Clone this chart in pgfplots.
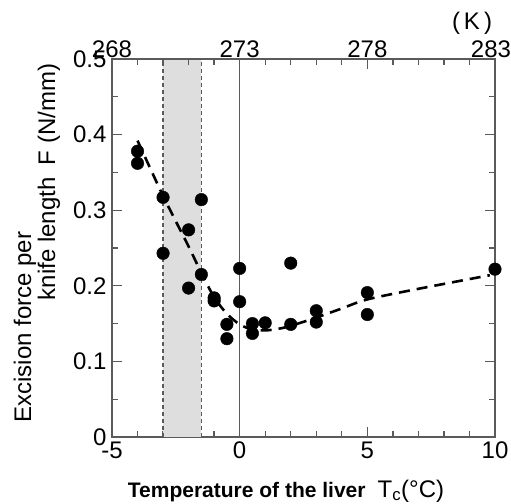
\documentclass[border=0pt]{standalone}
\usepackage{fontspec}
\setmainfont{Liberation Sans}
\usepackage{pgfplots}
\pgfplotsset{compat=1.18}
\definecolor{axgray}{RGB}{90,90,90}
\definecolor{shade}{RGB}{222,222,222}
\begin{document}
\begin{tikzpicture}
\useasboundingbox (-112pt,-66pt) rectangle (399pt,437pt);
\begin{axis}[
  at={(0pt,0pt)}, anchor=south west,
  scale only axis, width=383pt, height=378pt,
  xmin=-5, xmax=10, ymin=0, ymax=0.5,
  axis line style={axgray, line width=1.3pt},
  every tick/.style={axgray, line width=1.3pt},
  tick align=inside,
  xtick pos=bottom, ytick pos=both,
  xtick={-5,0,5,10}, xticklabels={-5,0,5,10},
  minor xtick={-4,-3,-2,-1,1,2,3,4,6,7,8,9},
  ytick={0,0.1,0.2,0.3,0.4,0.5}, yticklabels={0,0.1,0.2,0.3,0.4,0.5},
  minor ytick={0.05,0.15,0.25,0.35,0.45},
  major tick length=10pt, minor tick length=6pt,
  tick label style={font=\fontsize{24}{28}\selectfont},
  yticklabel style={xshift=-2pt},
  xticklabel style={yshift=-1pt},
  clip=false,
]
\addplot[fill=shade, draw=none] coordinates {(-3,0) (-3,0.5) (-1.5,0.5) (-1.5,0)} -- cycle;
\addplot[axgray, line width=1.2pt, dash pattern=on 4pt off 3pt] coordinates {(-3,0) (-3,0.5)};
\addplot[axgray, line width=1.2pt, dash pattern=on 4pt off 3pt] coordinates {(-1.5,0) (-1.5,0.5)};
\addplot[axgray, line width=1.3pt] coordinates {(0,0) (0,0.5)};
\addplot[black, line width=2.6pt, dash pattern=on 11pt off 7pt, smooth, tension=0.5] coordinates {
(-4,0.392) (-3,0.319) (-2,0.252) (-1.5,0.217) (-1,0.185) (-0.5,0.163) (0,0.149)
(0.5,0.142) (1,0.141) (1.5,0.143) (2,0.147) (3,0.158) (4,0.170) (5,0.182)
(7,0.196) (9.8,0.214)};
\addplot[only marks, mark=*, mark size=6.3pt, mark options={fill=black, draw=black}] coordinates {
(-4,0.378) (-4,0.362) (-3,0.317) (-3,0.243) (-2,0.274) (-2,0.197)
(-1.5,0.314) (-1.5,0.215) (-1,0.184) (-1,0.180) (-0.5,0.149) (-0.5,0.130)
(0,0.223) (0,0.179) (0.5,0.150) (0.5,0.137) (1,0.151) (2,0.230) (2,0.149)
(3,0.167) (3,0.152) (5,0.191) (5,0.162) (10,0.222)};
\end{axis}
\begin{axis}[
  at={(0pt,0pt)}, anchor=south west,
  scale only axis, width=383pt, height=378pt,
  xmin=268, xmax=283, ymin=0, ymax=1,
  axis x line*=top, axis y line=none,
  axis line style={axgray, line width=1.3pt},
  every tick/.style={axgray, line width=1.3pt},
  tick align=inside,
  xtick={268,273,278,283}, xticklabels={268,273,278,{\hspace*{-8pt}283}},
  minor xtick={269,270,271,272,274,275,276,277,279,280,281,282},
  major tick length=10pt, minor tick length=6pt,
  tick label style={font=\fontsize{24}{28}\selectfont},
  xticklabel style={yshift=-2pt},
]
\addplot[draw=none] coordinates {(268,0)};
\end{axis}
\node[font=\fontsize{24}{28}\selectfont] at (360pt,414pt) {(\,K\,)};
\node[font=\fontsize{24}{28}\selectfont, rotate=90] at (-87pt,110pt) {Excision force per};
\node[font=\fontsize{24}{28}\selectfont, rotate=90] at (-63pt,255pt) {knife length\enspace F (N/mm)};
\node[anchor=base] at (174pt,-60pt) {\fontsize{21}{25}\selectfont\textbf{Temperature of the liver}\hspace{12pt}\fontsize{24}{28}\selectfont T\textsubscript{c}(°C)};
\end{tikzpicture}
\end{document}
